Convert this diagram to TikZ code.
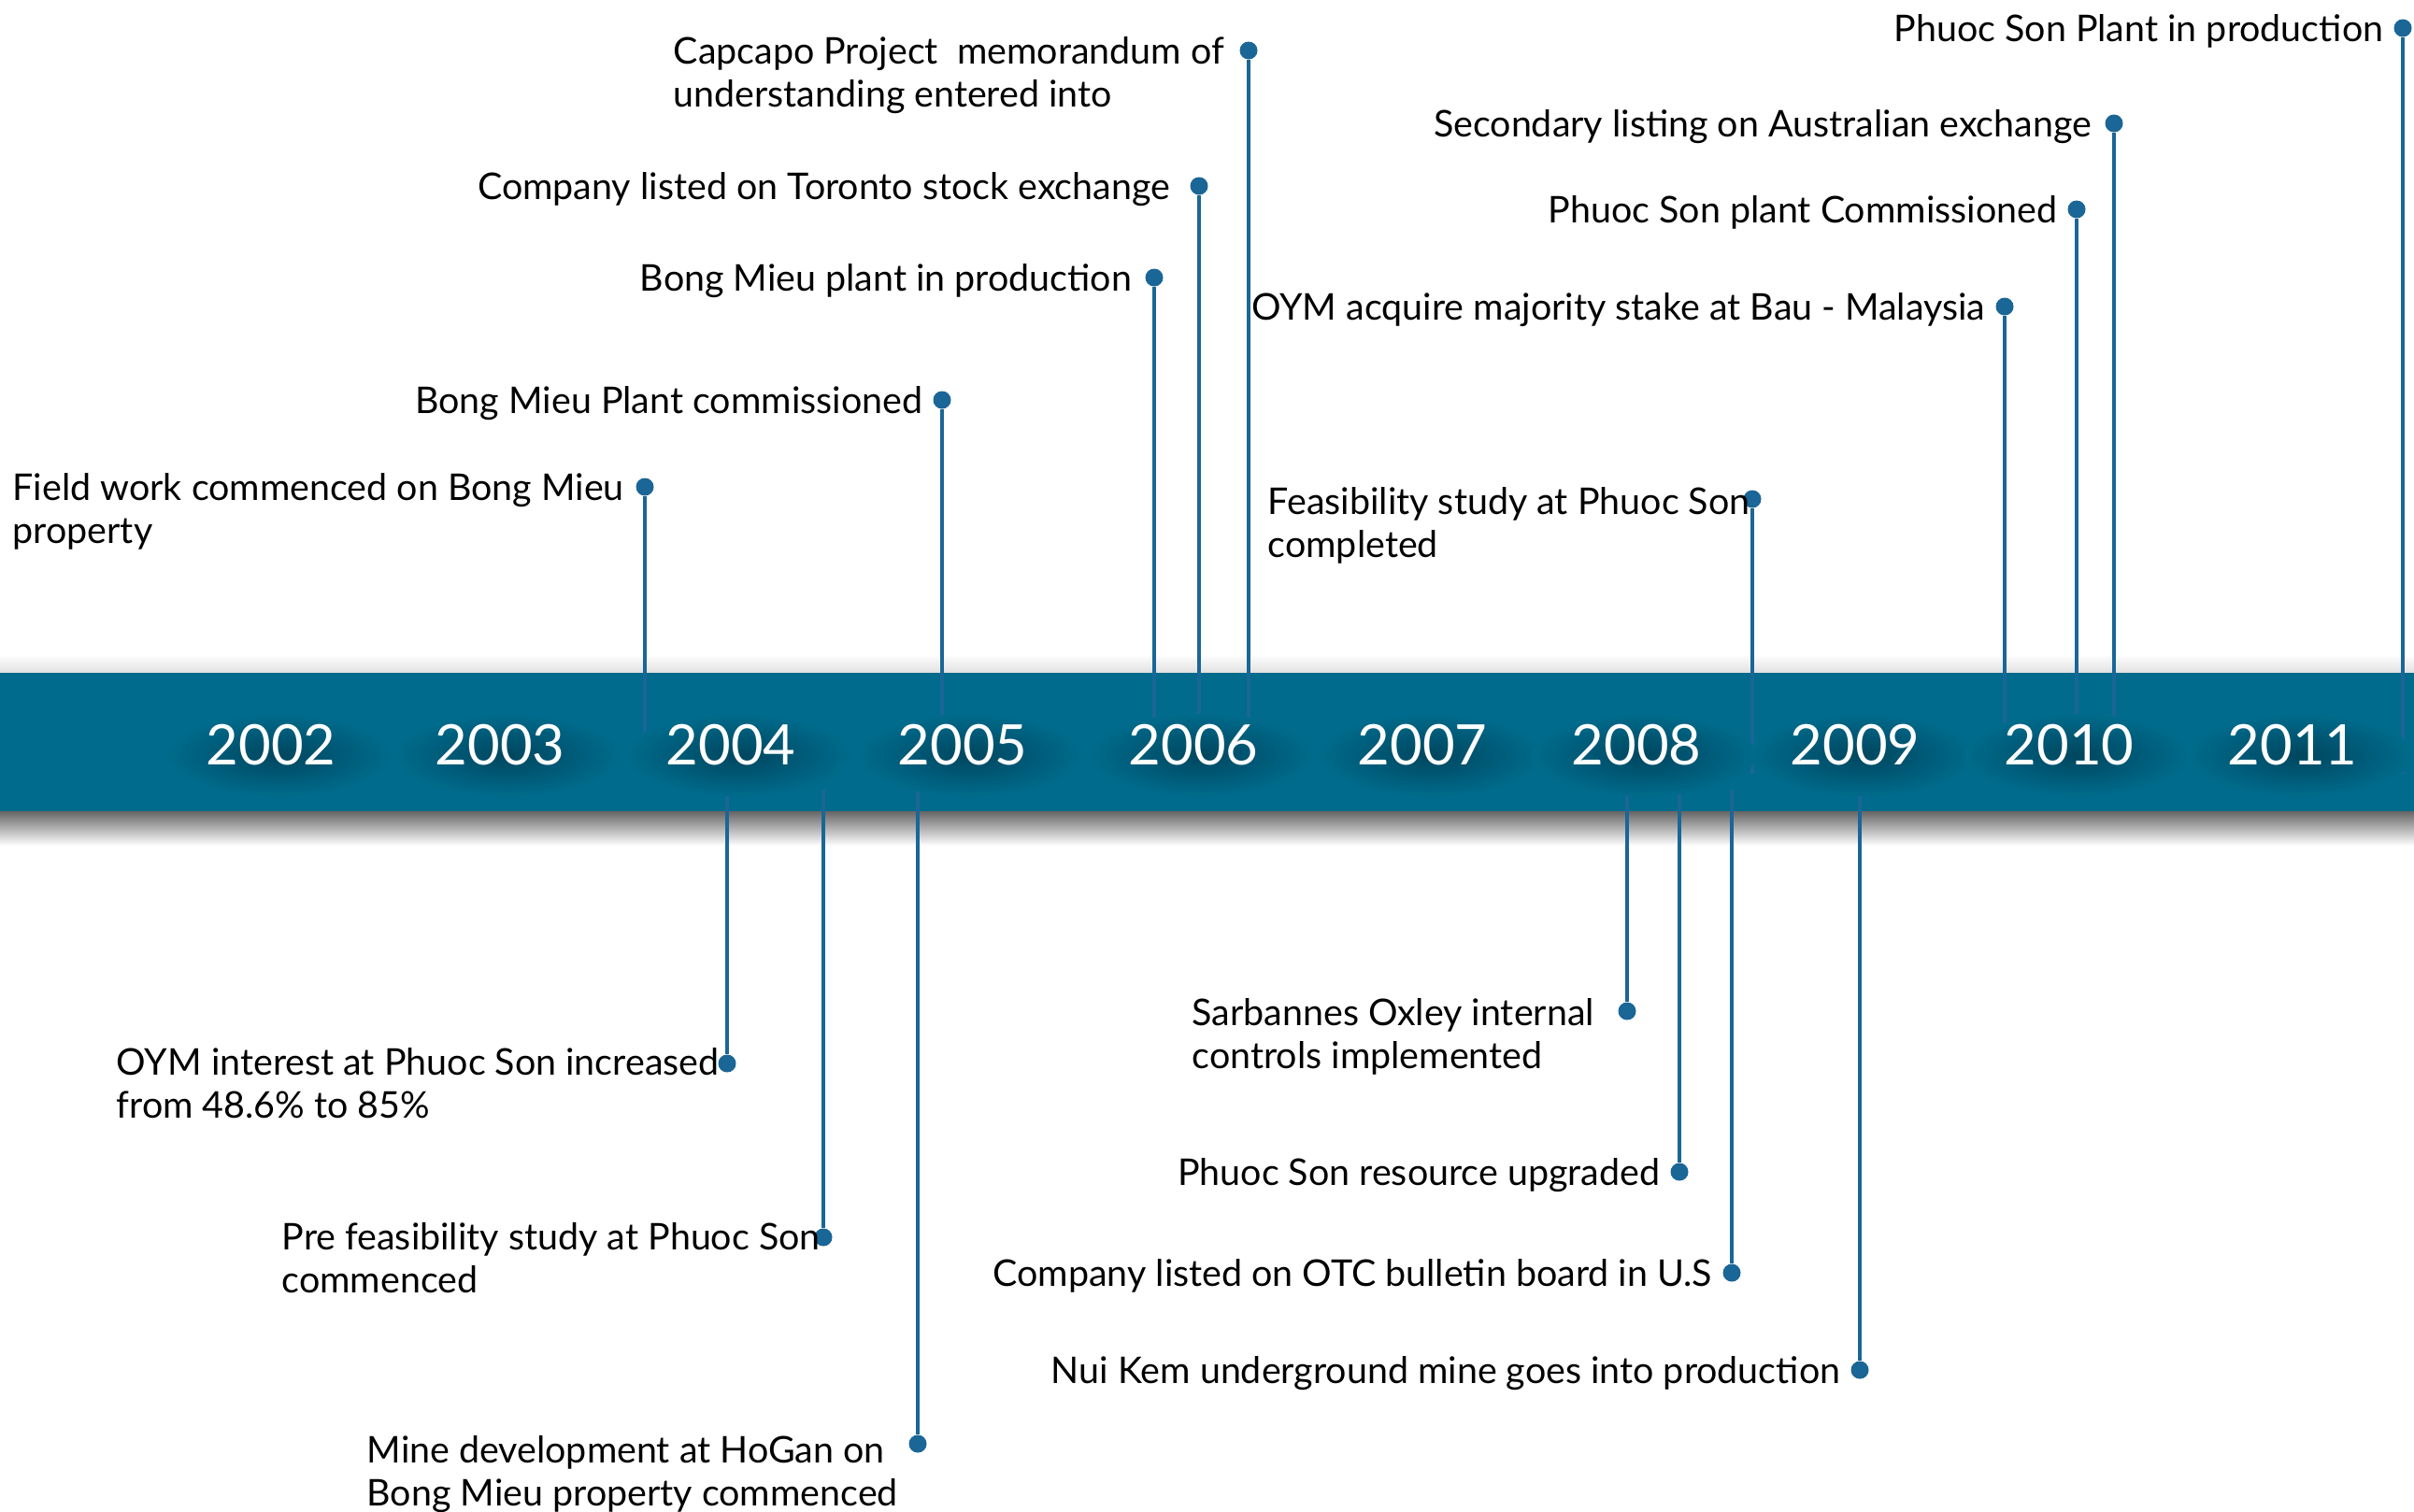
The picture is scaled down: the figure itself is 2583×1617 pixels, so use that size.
\documentclass[tikz,border=0pt]{standalone}
\usepackage{fontspec}
\setmainfont{Lato}
\usepackage{tikz}
\usetikzlibrary{positioning}
\definecolor{bandc}{HTML}{006B8C}
\definecolor{pinc}{HTML}{1A6696}
\definecolor{shdc}{HTML}{00465E}
\tikzset{
  evdot/.style={circle,fill=pinc,minimum size=0.19cm,inner sep=0pt},
  stem/.style={pinc,line width=0.9pt},
  ev/.style={font=\fontsize{11.2}{13.1}\selectfont,align=left,inner sep=0pt,yshift=-0.06cm},
  yr/.style={font=\fontsize{17}{20}\selectfont,text=white,inner sep=0pt},
  yrsh/.style={inner color=shdc,outer color=bandc}
}
\begin{document}
\begin{tikzpicture}[x=0.01cm,y=0.01cm]
\useasboundingbox (0,0) rectangle (2583,-1617);
% band with its shadows
\shade[top color=white,bottom color=black!12] (0,-700) rectangle (2583,-720);
\shade[top color=black!60,bottom color=white] (0,-868) rectangle (2583,-905);
\fill[bandc] (0,-720) rectangle (2583,-868);
% events above the band (two-line texts hang from their second line)
\node[evdot] (d1) at (690,-521) {};
\coordinate (b1) at (690,-828);
\draw[stem] (d1) -- (b1);
\node[ev,anchor=mid west] (t1) at (13,-567) {Field work commenced on Bong Mieu\\property};
\node[evdot] (d2) at (1008,-428) {};
\coordinate (b2) at (1008,-828);
\draw[stem] (d2) -- (b2);
\node[ev,left=0.1cm of d2,anchor=mid east] (t2) {Bong Mieu Plant commissioned};
\node[evdot] (d3) at (1235,-297) {};
\coordinate (b3) at (1235,-828);
\draw[stem] (d3) -- (b3);
\node[ev,left=0.13cm of d3,anchor=mid east] (t3) {Bong Mieu plant in production};
\node[evdot] (d4) at (1283,-199) {};
\coordinate (b4) at (1283,-828);
\draw[stem] (d4) -- (b4);
\node[ev,left=0.2cm of d4,anchor=mid east] (t4) {Company listed on Toronto stock exchange};
\node[evdot] (d5) at (1336,-54) {};
\coordinate (b5) at (1336,-828);
\draw[stem] (d5) -- (b5);
\node[ev,anchor=mid west] (t5) at (720,-100) {Capcapo Project\ \ memorandum of\\understanding entered into};
\node[evdot] (d6) at (1875,-534) {};
\coordinate (b6) at (1875,-828);
\draw[stem] (d6) -- (b6);
\node[ev,anchor=mid west] (t6) at (1356,-582) {Feasibility study at Phuoc Son\\completed};
\node[evdot] (d7) at (2145,-328) {};
\coordinate (b7) at (2145,-828);
\draw[stem] (d7) -- (b7);
\node[ev,left=0.1cm of d7,anchor=mid east] (t7) {OYM acquire majority stake at Bau - Malaysia};
\node[evdot] (d8) at (2222,-224) {};
\coordinate (b8) at (2222,-828);
\draw[stem] (d8) -- (b8);
\node[ev,left=0.1cm of d8,anchor=mid east] (t8) {Phuoc Son plant Commissioned};
\node[evdot] (d9) at (2262,-132) {};
\coordinate (b9) at (2262,-828);
\draw[stem] (d9) -- (b9);
\node[ev,left=0.13cm of d9,anchor=mid east] (t9) {Secondary listing on Australian exchange};
\node[evdot] (d10) at (2571,-30) {};
\coordinate (b10) at (2571,-828);
\draw[stem] (d10) -- (b10);
\node[ev,left=0.1cm of d10,anchor=mid east] (t10) {Phuoc Son Plant in production};
% events below the band
\coordinate (b11) at (778,-845);
\node[evdot] (d11) at (778,-1138) {};
\draw[stem] (b11) -- (d11);
\node[ev,anchor=mid west] (t11) at (124,-1182) {OYM interest at Phuoc Son increased\\from 48.6\% to 85\%};
\coordinate (b12) at (881,-845);
\node[evdot] (d12) at (881,-1324) {};
\draw[stem] (b12) -- (d12);
\node[ev,anchor=mid west] (t12) at (301,-1369) {Pre feasibility study at Phuoc Son\\commenced};
\coordinate (b13) at (982,-845);
\node[evdot] (d13) at (982,-1545) {};
\draw[stem] (b13) -- (d13);
\node[ev,anchor=mid west] (t13) at (392,-1597) {Mine development at HoGan on\\Bong Mieu property commenced};
\coordinate (b14) at (1741,-845);
\node[evdot] (d14) at (1741,-1082) {};
\draw[stem] (b14) -- (d14);
\node[ev,anchor=mid west] (t14) at (1275,-1129) {Sarbannes Oxley internal\\controls implemented};
\coordinate (b15) at (1797,-845);
\node[evdot] (d15) at (1797,-1254) {};
\draw[stem] (b15) -- (d15);
\node[ev,left=0.1cm of d15,anchor=mid east] (t15) {Phuoc Son resource upgraded};
\coordinate (b16) at (1853,-845);
\node[evdot] (d16) at (1853,-1362) {};
\draw[stem] (b16) -- (d16);
\node[ev,left=0.1cm of d16,anchor=mid east] (t16) {Company listed on OTC bulletin board in U.S};
\coordinate (b17) at (1990,-845);
\node[evdot] (d17) at (1990,-1466) {};
\draw[stem] (b17) -- (d17);
\node[ev,left=0.1cm of d17,anchor=mid east] (t17) {Nui Kem underground mine goes into production};
% years, each on a soft dark blot
\foreach \yr/\xx in {2002/290,2003/535,2004/782,2005/1030,2006/1277,2007/1522,2008/1751,2009/1985,2010/2214,2011/2453}{
  \shade[yrsh] (\xx+8,-808) ellipse [x radius=120,y radius=44];
  \node[yr] (y\yr) at (\xx,-797) {\yr};
}
\end{tikzpicture}
\end{document}
